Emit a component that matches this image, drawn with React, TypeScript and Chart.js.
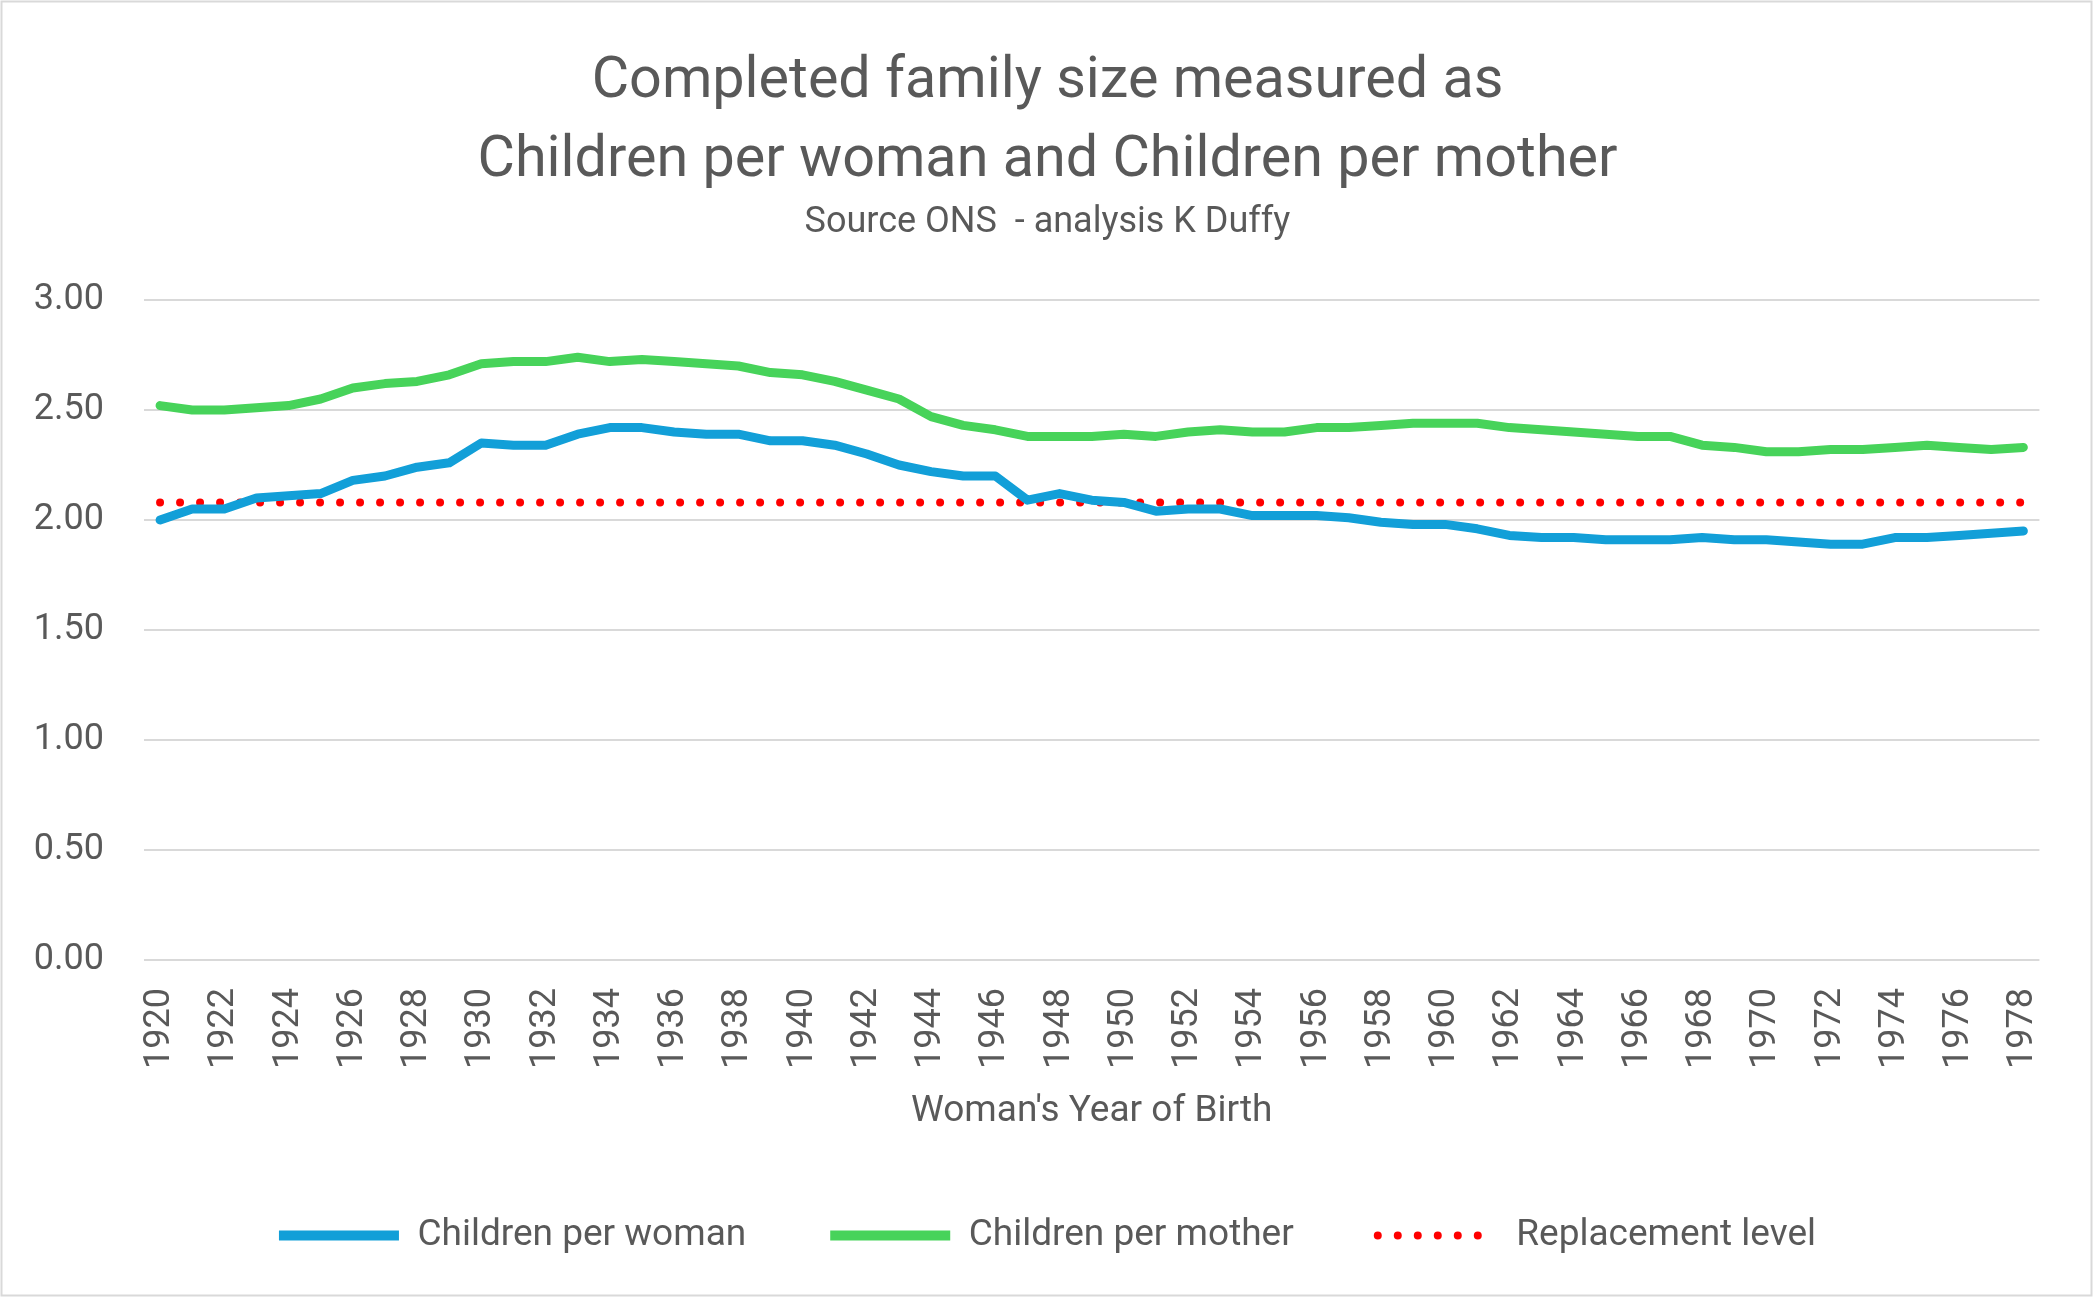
import React, { useEffect, useRef } from "react";
import { Chart, registerables } from "chart.js";

Chart.register(...registerables);

const YEARS = [
  "1920","1921","1922","1923","1924","1925","1926","1927","1928","1929",
  "1930","1931","1932","1933","1934","1935","1936","1937","1938","1939",
  "1940","1941","1942","1943","1944","1945","1946","1947","1948","1949",
  "1950","1951","1952","1953","1954","1955","1956","1957","1958","1959",
  "1960","1961","1962","1963","1964","1965","1966","1967","1968","1969",
  "1970","1971","1972","1973","1974","1975","1976","1977","1978",
];

const CHILDREN_PER_WOMAN = [
  2.00, 2.05, 2.05, 2.10, 2.11, 2.12, 2.18, 2.20, 2.24, 2.26,
  2.35, 2.34, 2.34, 2.39, 2.42, 2.42, 2.40, 2.39, 2.39, 2.36,
  2.36, 2.34, 2.30, 2.25, 2.22, 2.20, 2.20, 2.09, 2.12, 2.09,
  2.08, 2.04, 2.05, 2.05, 2.02, 2.02, 2.02, 2.01, 1.99, 1.98,
  1.98, 1.96, 1.93, 1.92, 1.92, 1.91, 1.91, 1.91, 1.92, 1.91,
  1.91, 1.90, 1.89, 1.89, 1.92, 1.92, 1.93, 1.94, 1.95,
];

const CHILDREN_PER_MOTHER = [
  2.52, 2.50, 2.50, 2.51, 2.52, 2.55, 2.60, 2.62, 2.63, 2.66,
  2.71, 2.72, 2.72, 2.74, 2.72, 2.73, 2.72, 2.71, 2.70, 2.67,
  2.66, 2.63, 2.59, 2.55, 2.47, 2.43, 2.41, 2.38, 2.38, 2.38,
  2.39, 2.38, 2.40, 2.41, 2.40, 2.40, 2.42, 2.42, 2.43, 2.44,
  2.44, 2.44, 2.42, 2.41, 2.40, 2.39, 2.38, 2.38, 2.34, 2.33,
  2.31, 2.31, 2.32, 2.32, 2.33, 2.34, 2.33, 2.32, 2.33,
];

const REPLACEMENT_LEVEL = 2.08;
const REPLACEMENT = YEARS.map(() => REPLACEMENT_LEVEL);

const SERIES_NAMES = ["Children per woman", "Children per mother", "Replacement level"];
const TITLE_LINES = ["Completed family size measured as", "Children per woman and Children per mother"];
const SUBTITLE = "Source ONS  - analysis K Duffy";
const X_TITLE = "Woman's Year of Birth";

const W = 2095;
const H = 1302;
const FONT = "Roboto, 'Open Sans', sans-serif";
const TEXT = "#595959";
const BLUE = "#129FD8";
const GREEN = "#47D35A";
const RED = "#FF0000";
const DOT_DASH = [0.001, 20];

const framePlugin = {
  id: "frame",
  beforeDraw(chart: any) {
    const ctx = chart.ctx;
    ctx.save();
    ctx.fillStyle = "#FFFFFF";
    ctx.fillRect(0, 0, chart.width, chart.height);
    ctx.restore();
  },
  afterDraw(chart: any) {
    const ctx = chart.ctx;
    ctx.save();
    ctx.strokeStyle = "#D9D9D9";
    ctx.lineWidth = 2;
    ctx.strokeRect(1.5, 1.5, chart.width - 5, chart.height - 8);
    ctx.restore();
  },
};

export default function App() {
  const ref = useRef<HTMLCanvasElement | null>(null);

  useEffect(() => {
    if (!ref.current) return;
    const chart = new Chart(ref.current, {
      type: "line",
      data: {
        labels: YEARS,
        datasets: [
          {
            label: SERIES_NAMES[0],
            data: CHILDREN_PER_WOMAN,
            borderColor: BLUE,
            backgroundColor: BLUE,
            borderWidth: 9,
            pointRadius: 0,
            tension: 0,
            borderJoinStyle: "round",
            borderCapStyle: "round",
          },
          {
            label: SERIES_NAMES[1],
            data: CHILDREN_PER_MOTHER,
            borderColor: GREEN,
            backgroundColor: GREEN,
            borderWidth: 9,
            pointRadius: 0,
            tension: 0,
            borderJoinStyle: "round",
            borderCapStyle: "round",
          },
          {
            label: SERIES_NAMES[2],
            data: REPLACEMENT,
            borderColor: RED,
            backgroundColor: RED,
            borderWidth: 8,
            borderDash: DOT_DASH,
            borderCapStyle: "round",
            pointRadius: 0,
            tension: 0,
          },
        ],
      },
      options: {
        responsive: false,
        animation: false,
        devicePixelRatio: 1,
        layout: { padding: { left: 0, right: 0, top: 0, bottom: 38 } },
        plugins: {
          title: {
            display: true,
            text: TITLE_LINES,
            color: TEXT,
            font: { family: FONT, size: 57.5, weight: "normal", lineHeight: "79px" },
            padding: { top: 43, bottom: 0 },
          },
          subtitle: {
            display: true,
            text: SUBTITLE,
            color: TEXT,
            font: { family: FONT, size: 36, weight: "normal", lineHeight: "44px" },
            padding: { top: 0, bottom: 55 },
          },
          legend: {
            position: "bottom",
            labels: {
              usePointStyle: true,
              pointStyleWidth: 120,
              padding: 84,
              color: TEXT,
              font: { family: FONT, size: 37 },
              generateLabels: (c: any) =>
                c.data.datasets.map((ds: any, i: number) => ({
                  text: ds.label,
                  fillStyle: ds.borderColor,
                  strokeStyle: ds.borderColor,
                  lineWidth: i === 2 ? 8 : 10,
                  lineDash: i === 2 ? DOT_DASH : [],
                  lineCap: i === 2 ? "round" : "butt",
                  pointStyle: "line",
                  hidden: false,
                  datasetIndex: i,
                  fontColor: TEXT,
                })),
            },
          },
          tooltip: { enabled: false },
        },
        scales: {
          x: {
            offset: true,
            grid: { display: false, drawTicks: false },
            border: { display: false },
            ticks: {
              autoSkip: false,
              maxRotation: 90,
              minRotation: 90,
              padding: 28,
              color: TEXT,
              font: { family: FONT, size: 36 },
              callback: (_v: any, i: number) => (Number(YEARS[i]) % 2 === 0 ? YEARS[i] : ""),
            },
            title: {
              display: true,
              text: X_TITLE,
              color: TEXT,
              font: { family: FONT, size: 37, lineHeight: "42px" },
              padding: { top: 0, bottom: 0 },
            },
            afterFit: (s: any) => {
              s.height = 173;
            },
          },
          y: {
            min: 0,
            max: 3,
            grid: { color: "#D9D9D9", lineWidth: 2, drawTicks: false },
            border: { display: false },
            ticks: {
              stepSize: 0.5,
              padding: 40,
              color: TEXT,
              font: { family: FONT, size: 36 },
              callback: (v: any) => Number(v).toFixed(2),
            },
            afterFit: (s: any) => {
              s.width = 144;
            },
          },
          yRight: {
            position: "right",
            display: true,
            grid: { display: false, drawTicks: false },
            border: { display: false },
            ticks: { display: false },
            afterFit: (s: any) => {
              s.width = 51;
            },
          },
        },
      },
      plugins: [framePlugin],
    } as any);
    return () => chart.destroy();
  }, []);

  return (
    <div style={{ position: "fixed", left: 0, top: 0, width: W, height: H, background: "#fff" }}>
      <canvas ref={ref} width={W} height={H} style={{ width: W, height: H, display: "block" }} />
    </div>
  );
}
